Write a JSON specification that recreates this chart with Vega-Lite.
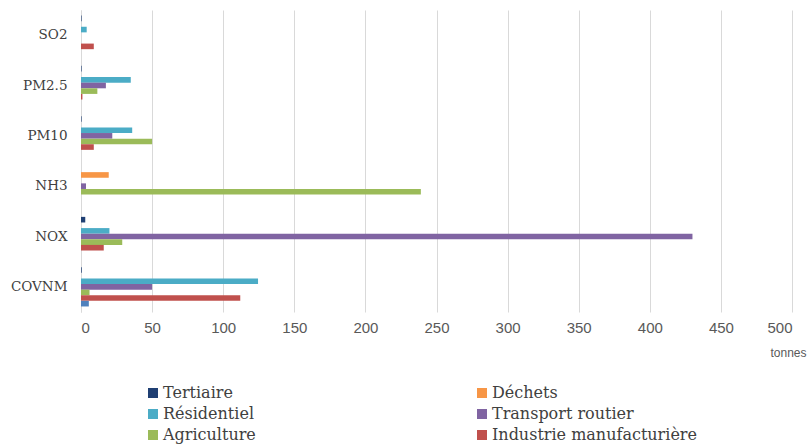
{
  "$schema": "https://vega.github.io/schema/vega-lite/v6.json",
  "width": 711,
  "height": 302,
  "autosize": {"type": "none"},
  "padding": {"left": 81, "top": 10, "right": 17, "bottom": 136},
  "background": "#ffffff",
  "data": {
    "values": [
      {"polluant": "SO2", "secteur": "Tertiaire", "tonnes": 0.4},
      {"polluant": "SO2", "secteur": "Résidentiel", "tonnes": 4},
      {"polluant": "SO2", "secteur": "Industrie manufacturière", "tonnes": 9},
      {"polluant": "PM2.5", "secteur": "Tertiaire", "tonnes": 0.4},
      {"polluant": "PM2.5", "secteur": "Résidentiel", "tonnes": 35},
      {"polluant": "PM2.5", "secteur": "Transport routier", "tonnes": 17.5},
      {"polluant": "PM2.5", "secteur": "Agriculture", "tonnes": 11.5},
      {"polluant": "PM2.5", "secteur": "Industrie manufacturière", "tonnes": 1},
      {"polluant": "PM10", "secteur": "Tertiaire", "tonnes": 0.4},
      {"polluant": "PM10", "secteur": "Résidentiel", "tonnes": 36},
      {"polluant": "PM10", "secteur": "Transport routier", "tonnes": 22},
      {"polluant": "PM10", "secteur": "Agriculture", "tonnes": 50},
      {"polluant": "PM10", "secteur": "Industrie manufacturière", "tonnes": 9},
      {"polluant": "NH3", "secteur": "Déchets", "tonnes": 19.5},
      {"polluant": "NH3", "secteur": "Transport routier", "tonnes": 3.5},
      {"polluant": "NH3", "secteur": "Agriculture", "tonnes": 239},
      {"polluant": "NOX", "secteur": "Tertiaire", "tonnes": 3},
      {"polluant": "NOX", "secteur": "Résidentiel", "tonnes": 20},
      {"polluant": "NOX", "secteur": "Transport routier", "tonnes": 430},
      {"polluant": "NOX", "secteur": "Agriculture", "tonnes": 29},
      {"polluant": "NOX", "secteur": "Industrie manufacturière", "tonnes": 16},
      {"polluant": "COVNM", "secteur": "Tertiaire", "tonnes": 0.5},
      {"polluant": "COVNM", "secteur": "Résidentiel", "tonnes": 124.5},
      {"polluant": "COVNM", "secteur": "Transport routier", "tonnes": 50},
      {"polluant": "COVNM", "secteur": "Agriculture", "tonnes": 6},
      {"polluant": "COVNM", "secteur": "Industrie manufacturière", "tonnes": 112},
      {"polluant": "COVNM", "secteur": "Autres transports", "tonnes": 5.5}
    ]
  },
  "mark": {"type": "bar"},
  "encoding": {
    "y": {
      "field": "polluant",
      "type": "nominal",
      "sort": ["SO2", "PM2.5", "PM10", "NH3", "NOX", "COVNM"],
      "scale": {"paddingInner": 0.22, "paddingOuter": 0.11},
      "axis": {
        "title": null,
        "ticks": false,
        "domain": true,
        "domainColor": "#d9d9d9",
        "labelFont": "DejaVu Serif",
        "labelFontSize": 13.5,
        "labelColor": "#404040",
        "labelPadding": 14
      }
    },
    "yOffset": {
      "field": "secteur",
      "type": "nominal",
      "sort": ["Tertiaire", "Déchets", "Résidentiel", "Transport routier", "Agriculture", "Industrie manufacturière", "Autres transports"],
      "scale": {
        "domain": ["Tertiaire", "Déchets", "Résidentiel", "Transport routier", "Agriculture", "Industrie manufacturière", "Autres transports"],
        "paddingInner": 0,
        "paddingOuter": 0
      }
    },
    "x": {
      "field": "tonnes",
      "type": "quantitative",
      "scale": {"domain": [0, 500], "nice": false},
      "axis": {
        "values": [0, 50, 100, 150, 200, 250, 300, 350, 400, 450, 500],
        "title": "tonnes",
        "titleFont": "Liberation Sans Narrow, Liberation Sans, sans-serif",
        "titleFontSize": 12,
        "titleFontWeight": "normal",
        "titleColor": "#595959",
        "titleAlign": "right",
        "titleBaseline": "middle",
        "titleX": 725,
        "titleY": 40,
        "domain": false,
        "ticks": false,
        "grid": true,
        "gridColor": "#d9d9d9",
        "gridWidth": 1,
        "labelFont": "Liberation Sans Narrow, Liberation Sans, sans-serif",
        "labelFontSize": 15,
        "labelColor": "#595959",
        "labelPadding": 8
      }
    },
    "color": {
      "field": "secteur",
      "type": "nominal",
      "scale": {
        "domain": ["Tertiaire", "Déchets", "Résidentiel", "Transport routier", "Agriculture", "Industrie manufacturière", "Autres transports"],
        "range": ["#1f3f73", "#f79646", "#4bacc6", "#8064a2", "#9bbb59", "#c0504d", "#4f81bd"]
      },
      "legend": {
        "title": null,
        "values": ["Tertiaire", "Résidentiel", "Agriculture", "Déchets", "Transport routier", "Industrie manufacturière"],
        "orient": "none",
        "legendX": 64,
        "legendY": 375,
        "columns": 2,
        "columnPadding": 218,
        "rowPadding": 5,
        "symbolType": "square",
        "symbolSize": 100,
        "symbolOffset": 0,
        "symbolStrokeWidth": 0,
        "labelOffset": 2,
        "labelLimit": 300,
        "labelFontSize": 16,
        "labelColor": "#404040"
      }
    }
  },
  "config": {
    "font": "DejaVu Serif",
    "view": {"stroke": null}
  }
}
